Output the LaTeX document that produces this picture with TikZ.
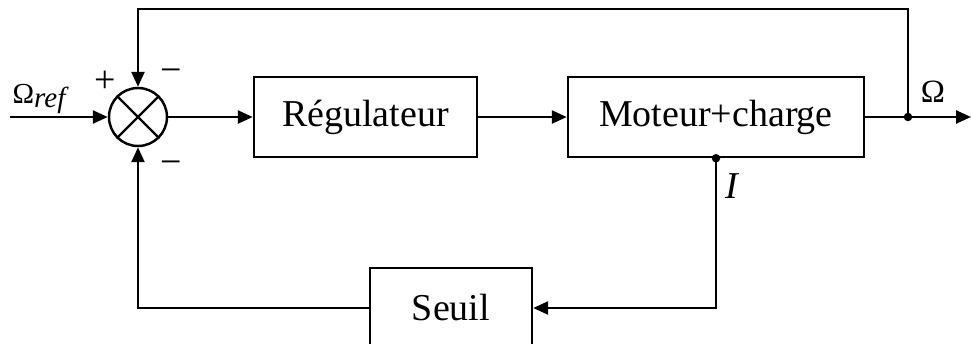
\documentclass[tikz,border=0pt]{standalone}
\usepackage{fontspec}
\setmainfont{Liberation Serif}
\usetikzlibrary{positioning, arrows.meta}

\begin{document}
\begin{tikzpicture} [node distance = 2cm, on grid, line width = 1.4pt,
        block/.style = {draw, minimum height = 1.6cm, inner sep = 0pt},
        sumnode/.style = {draw, circle, minimum size = 1.16cm, inner sep = 0pt},
        dot/.style = {fill, circle, minimum size = 0.17cm, inner sep = 0pt},
        >={Triangle[length = 0.3cm, width = 0.26cm]},
        font = \fontsize{21.6}{26}\selectfont]

        \useasboundingbox (-2.76, 2.34) rectangle (16.66, -4.52);

        \node (sum) [sumnode] {}; \node (reg) [block, minimum width = 4.46cm,
        right = 4.55cm of sum] {Régulateur}; \node (mot) [block, minimum width
        = 5.92cm, right = 7.01cm of reg] {Moteur+charge}; \node (seuil) [block,
        minimum width = 3.24cm, below right = 3.82cm and 6.26cm of sum] {Seuil};
        \node (out) [dot, right = 15.4cm of sum] {}; \node (tap) [dot] at
        (mot.south) {};

        \node (in) [coordinate, left = 2.56cm of sum] {}; \node (end)
        [coordinate, right = 16.66cm of sum] {}; \node (ret) [coordinate, above
        = 2.16cm of out] {};

        \draw (sum.north west) -- (sum.south east) (sum.north east) --
        (sum.south west);

        \path [->]
            (in) edge (sum) (sum) edge (reg) (reg) edge (mot) (mot) edge (end);
        \draw [->] (out.center) -- (ret) -| (sum);
        \draw [->] (tap.center) |- (seuil);
        \draw [->] (seuil) -| (sum);

        \node (wref) [above left = 0.36cm and 1.98cm of sum]
        {\fontsize{16.5}{18}\selectfont Ω\raisebox{-0.3ex}{\itshape ref}};
        \node (plus) [above left = 0.7cm and 0.66cm of sum] {+}; \node (minus1)
        [above right = 0.82cm and 0.66cm of sum] {−}; \node (minus2) [below
        right = 1.02cm and 0.66cm of sum] {−}; \node (wout) [above right =
        0.5cm and 0.5cm of out] {\fontsize{18.5}{20}\selectfont Ω}; \node (cur)
        [below right = 0.56cm and 0.32cm of tap] {\itshape I};

    \end{tikzpicture}
\end{document}
